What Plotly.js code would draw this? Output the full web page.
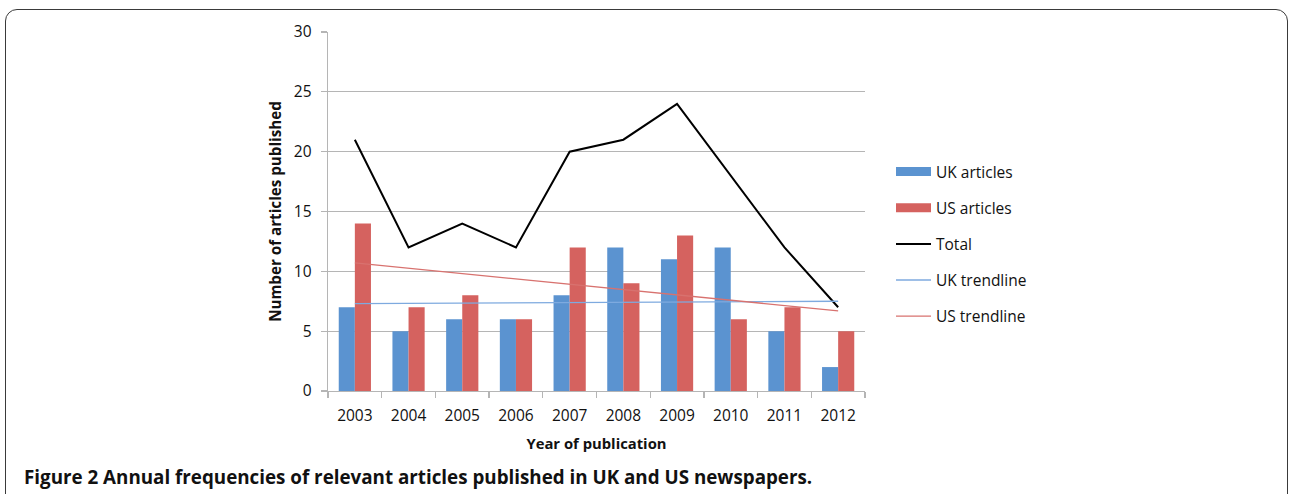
<!DOCTYPE html>
<html>
<head>
<meta charset="utf-8">
<script src="https://cdn.plot.ly/plotly-3.0.1.min.js"></script>
<style>
  html, body { margin:0; padding:0; background:#fff; overflow:hidden; }
  #frame { position:absolute; left:5px; top:9px; width:1283px; height:620px;
           border:1.5px solid #3a3a3a; border-radius:12px; box-sizing:border-box; }
  #chart { position:absolute; left:0; top:0; width:1289px; height:494px; }
</style>
</head>
<body>
<div id="frame"></div>
<div id="chart"></div>
<script>
// ---- data ----
const years = ['2003','2004','2005','2006','2007','2008','2009','2010','2011','2012'];
const ukArticles = [7, 5, 6, 6, 8, 12, 11, 12, 5, 2];
const usArticles = [14, 7, 8, 6, 12, 9, 13, 6, 7, 5];
const totalArticles = [21, 12, 14, 12, 20, 21, 24, 18, 12, 7];
const trendYears = ['2003', '2012'];
const ukTrend = [7.3, 7.5];
const usTrend = [10.7, 6.7];
const yTicks = [0, 5, 10, 15, 20, 25, 30];
const caption = '<b>Figure 2 Annual frequencies of relevant articles published in UK and US newspapers.</b>';

const FONT = 'Open Sans, DejaVu Sans, sans-serif';
const grid = '#b5b5b5';
const ukColor = '#5b93d0', usColor = '#d5625f';

const traces = [
  { type:'bar', name:'UK articles', x:years, y:ukArticles,
    marker:{color:ukColor}, legendgroup:'a', showlegend:false },
  { type:'bar', name:'US articles', x:years, y:usArticles,
    marker:{color:usColor}, legendgroup:'b', showlegend:false },
  // legend keys drawn as wide rectangles, as in the reference
  { type:'scatter', mode:'lines', name:'UK articles', x:[null], y:[null],
    line:{color:ukColor, width:9}, legendgroup:'a', hoverinfo:'skip' },
  { type:'scatter', mode:'lines', name:'US articles', x:[null], y:[null],
    line:{color:usColor, width:9}, legendgroup:'b', hoverinfo:'skip' },
  { type:'scatter', mode:'lines', name:'Total', x:years, y:totalArticles,
    line:{color:'#000000', width:2}, legendgroup:'c' },
  { type:'scatter', mode:'lines', name:'UK trendline', x:trendYears, y:ukTrend,
    line:{color:'#7eaadf', width:1.3}, legendgroup:'d' },
  { type:'scatter', mode:'lines', name:'US trendline', x:trendYears, y:usTrend,
    line:{color:'#d8726f', width:1.3}, legendgroup:'e' }
];

const W = 1289, H = 494, L = 328, R = 865, T = 32, B = 391;
const px = v => (v - L) / (R - L);
const py = v => (B - v) / (B - T);

const layout = {
  width:W, height:H,
  margin:{l:L, r:W-R, t:T, b:H-B, pad:0},
  paper_bgcolor:'rgba(0,0,0,0)', plot_bgcolor:'rgba(0,0,0,0)',
  font:{family:FONT, size:14, color:'#111'},
  barmode:'group', bargap:0.4, bargroupgap:0,
  showlegend:true,
  legend:{x:px(891), xanchor:'left', y:py(155), yanchor:'top',
          traceorder:'grouped', tracegroupgap:13, itemwidth:35,
          font:{family:FONT, size:15.5, color:'#111'}, bgcolor:'rgba(0,0,0,0)'},
  xaxis:{type:'category', categoryorder:'array', categoryarray:years,
         showgrid:false, showline:true, linecolor:grid, linewidth:1.3,
         ticks:'outside', tickson:'boundaries', ticklen:6, tickcolor:grid, tickwidth:1.3,
         ticklabelstandoff:10,
         tickfont:{family:FONT, size:15.5, color:'#111'},
         title:{text:'<b>Year of publication</b>', font:{family:FONT, size:14.8, color:'#111'}, standoff:13}},
  yaxis:{range:[0,30], tickvals:yTicks, ticktext:yTicks.map(String),
         showgrid:true, gridcolor:grid, gridwidth:1.3, zeroline:false,
         showline:true, linecolor:grid, linewidth:1.3,
         ticks:'outside', ticklen:6, tickcolor:grid, tickwidth:1.3,
         ticklabelstandoff:6,
         tickfont:{family:FONT, size:15.5, color:'#111'},
         title:{text:'<b>Number of articles published</b>', font:{family:FONT, size:15.2, color:'#111'}, standoff:8}},
  annotations:[
    { xref:'paper', yref:'paper', x:px(21.5), y:py(477), xanchor:'left', yanchor:'middle',
      text:caption, showarrow:false, font:{family:FONT, size:18.8, color:'#111'} }
  ]
};

Plotly.newPlot('chart', traces, layout, {displayModeBar:false, staticPlot:true});
</script>
</body>
</html>
